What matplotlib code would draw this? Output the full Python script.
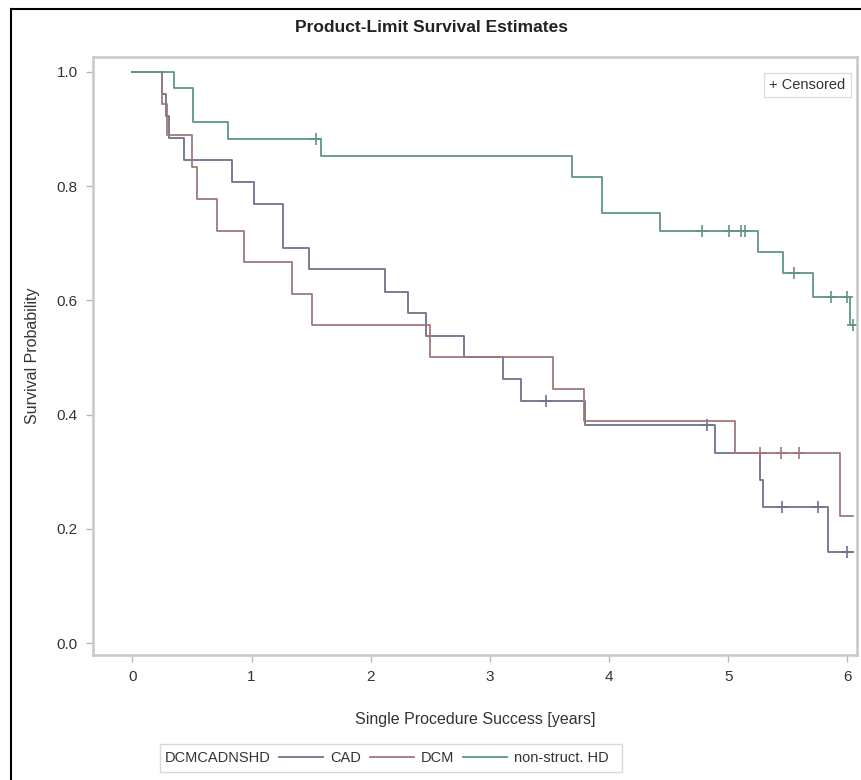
import matplotlib
matplotlib.use('Agg')
import matplotlib.pyplot as plt
from matplotlib.lines import Line2D
from matplotlib.patches import Rectangle

plt.rcParams['font.family'] = ['Liberation Sans Narrow', 'Liberation Sans', 'DejaVu Sans']

# Kaplan-Meier step values per group (years, survival)
cad_t = [0, 0.25, 0.28, 0.31, 0.43, 0.84, 1.02, 1.26, 1.48, 2.12, 2.31, 2.46,
         2.78, 3.11, 3.26, 3.80, 4.89, 5.27, 5.29, 5.84, 6.05]
cad_s = [1.0, 0.962, 0.923, 0.885, 0.846, 0.808, 0.769, 0.692, 0.654, 0.615,
         0.577, 0.538, 0.500, 0.462, 0.423, 0.381, 0.333, 0.286, 0.238, 0.159, 0.159]
cad_cens_t = [3.47, 4.82, 5.45, 5.75, 6.00]
cad_cens_s = [0.423, 0.381, 0.238, 0.238, 0.159]

dcm_t = [0, 0.25, 0.29, 0.50, 0.54, 0.71, 0.94, 1.34, 1.51, 2.50, 3.53, 3.79,
         5.06, 5.94, 6.05]
dcm_s = [1.0, 0.944, 0.889, 0.833, 0.778, 0.722, 0.667, 0.611, 0.556, 0.500,
         0.444, 0.389, 0.333, 0.222, 0.222]
dcm_cens_t = [5.27, 5.44, 5.59]
dcm_cens_s = [0.333, 0.333, 0.333]

hd_t = [0, 0.35, 0.51, 0.80, 1.58, 3.69, 3.94, 4.43, 5.25, 5.46, 5.71, 6.02, 6.06]
hd_s = [1.0, 0.971, 0.912, 0.882, 0.852, 0.816, 0.753, 0.721, 0.685, 0.648,
        0.606, 0.557, 0.557]
hd_cens_t = [1.54, 4.78, 5.01, 5.11, 5.14, 5.55, 5.86, 6.00, 6.05]
hd_cens_s = [0.882, 0.721, 0.721, 0.721, 0.721, 0.648, 0.606, 0.606, 0.557]

groups = ['CAD', 'DCM', 'non-struct. HD']
colors = ['#6e7190', '#a07878', '#5f9687']
x_ticks = [0, 1, 2, 3, 4, 5, 6]
y_ticks = [0.0, 0.2, 0.4, 0.6, 0.8, 1.0]

W, H = 862, 780
fig = plt.figure(figsize=(W / 100, H / 100), dpi=100)
ax = fig.add_axes([93 / W, 1 - 655 / H, (857 - 93) / W, (655 - 57) / H])

series = [(cad_t, cad_s, cad_cens_t, cad_cens_s),
          (dcm_t, dcm_s, dcm_cens_t, dcm_cens_s),
          (hd_t, hd_s, hd_cens_t, hd_cens_s)]
for (t, s, ct, cs), c in zip(series, colors):
    ax.step(t, s, where='post', color=c, lw=1.3)
    ax.plot(ct, cs, ls='none', marker='+', ms=8, mew=1.2, color=c)

ax.set_xlim(-0.33, 6.08)
ax.set_ylim(-0.021, 1.026)
ax.set_xticks(x_ticks)
ax.set_xticklabels([str(v) for v in x_ticks])
ax.set_yticks(y_ticks)
ax.set_yticklabels([f'{v:.1f}' for v in y_ticks])
ax.tick_params(length=5, width=1, color='#b8b8b8', labelcolor='#333333',
               labelsize=11, pad=6)
for sp in ax.spines.values():
    sp.set_color('#c8c8c8')
    sp.set_linewidth(1.8)

ax.set_xlabel('Single Procedure Success [years]', fontsize=11.5, color='#333333',
              labelpad=20)
ax.set_ylabel('Survival Probability', fontsize=11.5, color='#333333', labelpad=12)
fig.text(432 / W, 1 - 27 / H, 'Product-Limit Survival Estimates', ha='center',
         va='center', fontsize=12.5, fontweight='bold', color='#222222')

# censored key, top right
ax.text(0.985, 0.965, '+ Censored', transform=ax.transAxes, ha='right', va='top',
        fontsize=10.5, color='#333333',
        bbox=dict(boxstyle='square,pad=0.35', fc='white', ec='#dddddd', lw=1))

# group legend below the axes
fig.patches.append(Rectangle((160 / W, 1 - 772 / H), 462 / W, 28 / H,
                             transform=fig.transFigure, fc='white', ec='#d8d8d8',
                             lw=1))
fig.text(165 / W, 1 - 758 / H, 'DCMCADNSHD', ha='left', va='center',
         fontsize=10.5, color='#333333')
handles = [Line2D([], [], color=c, lw=1.3) for c in colors]
fig.legend(handles, groups, loc='center left',
           bbox_to_anchor=(266 / W, 1 - 758 / H), ncol=3, frameon=False,
           fontsize=10.5, handlelength=3.0, handletextpad=0.5, columnspacing=0.6,
           labelcolor='#333333')

# outer frame (left and top edges)
fig.add_artist(Line2D([11 / W, 11 / W], [0, 1 - 9 / H], color='black', lw=1.5,
                      transform=fig.transFigure))
fig.add_artist(Line2D([11 / W, 1], [1 - 9 / H, 1 - 9 / H], color='black', lw=1.5,
                      transform=fig.transFigure))

fig.savefig('out.png', dpi=100)
